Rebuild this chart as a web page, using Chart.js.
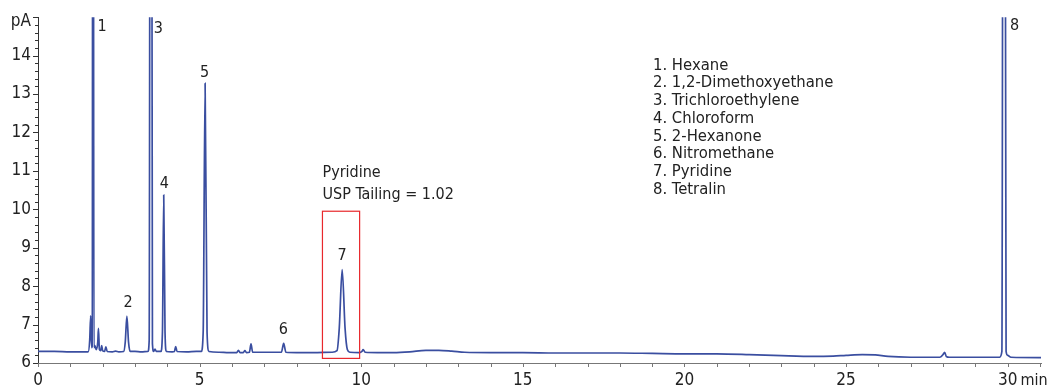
<!DOCTYPE html>
<html>
<head>
<meta charset="utf-8">
<script src="https://cdn.jsdelivr.net/npm/chart.js@4.4.1/dist/chart.umd.min.js"></script>
<style>
  html, body { margin: 0; padding: 0; background: #fff; }
</style>
</head>
<body>
<canvas id="chroma" width="1047" height="387"></canvas>
<script>
// retention time (min) and detector signal (pA)
const times = [
  0.0, 0.5, 1.0, 1.4, 1.55, 1.60, 1.63, 1.66, 1.68, 1.70, 1.73, 1.76, 1.80, 1.85, 1.87, 1.90,
  1.94, 1.97, 2.00, 2.06, 2.10, 2.14, 2.30, 2.40, 2.50, 2.65, 2.70, 2.75, 2.80, 2.85, 3.00, 3.20,
  3.40, 3.44, 3.49, 3.54, 3.58, 3.62, 3.66, 3.80, 3.85, 3.89, 3.93, 3.97, 4.15, 4.22, 4.26, 4.30,
  4.60, 4.90, 5.05, 5.11, 5.17, 5.23, 5.29, 5.60, 5.90, 6.15, 6.20, 6.25, 6.35, 6.40, 6.45, 6.54,
  6.59, 6.64, 7.00, 7.30, 7.53, 7.60, 7.67, 8.00, 8.50, 9.10, 9.25, 9.32, 9.41, 9.50, 9.57, 9.65,
  9.95, 10.02, 10.06, 10.12, 10.5, 11.0, 11.5, 12.0, 12.4, 12.8, 13.2, 14.0, 15.0, 16.0, 17.0, 18.0,
  19.0, 20.0, 21.0, 22.0, 23.0, 24.0, 24.6, 25.0, 25.5, 25.9, 26.3, 27.0, 27.9, 28.0, 28.05, 28.1,
  28.2, 29.0, 29.75, 29.82, 29.88, 29.95, 30.0, 30.1, 31.03
];
const signal = [
  6.30, 6.30, 6.29, 6.29, 6.29, 6.60, 7.23, 6.40, 6.45, 40.0, 6.40, 6.45, 6.35, 6.55, 6.90, 6.35,
  6.32, 6.45, 6.32, 6.30, 6.42, 6.30, 6.29, 6.31, 6.29, 6.30, 6.55, 7.22, 6.55, 6.30, 6.30, 6.29,
  6.30, 6.60, 40.0, 6.50, 6.30, 6.36, 6.30, 6.30, 6.80, 10.37, 6.80, 6.30, 6.29, 6.30, 6.43, 6.30,
  6.29, 6.30, 6.30, 6.80, 13.28, 6.80, 6.30, 6.28, 6.27, 6.27, 6.33, 6.27, 6.27, 6.32, 6.27, 6.28,
  6.50, 6.28, 6.28, 6.28, 6.28, 6.51, 6.28, 6.27, 6.27, 6.28, 6.32, 6.90, 8.43, 6.90, 6.35, 6.28,
  6.27, 6.30, 6.35, 6.28, 6.27, 6.27, 6.29, 6.33, 6.33, 6.31, 6.28, 6.27, 6.27, 6.26, 6.26, 6.26,
  6.25, 6.24, 6.24, 6.22, 6.19, 6.17, 6.18, 6.20, 6.22, 6.21, 6.17, 6.15, 6.15, 6.22, 6.28, 6.17,
  6.15, 6.15, 6.15, 6.30, 40.0, 6.30, 6.20, 6.15, 6.14
];

// peak numbers and where they sit (min, pA)
const peakNames = ['1', '2', '3', '4', '5', '6', '7', '8'];
const peakLabelX = [1.98, 2.79, 3.72, 3.91, 5.15, 7.59, 9.41, 30.21];
const peakLabelY = [14.74, 7.57, 14.70, 10.65, 13.56, 6.85, 8.78, 14.77];

const compounds = [
  '1. Hexane',
  '2. 1,2-Dimethoxyethane',
  '3. Trichloroethylene',
  '4. Chloroform',
  '5. 2-Hexanone',
  '6. Nitromethane',
  '7. Pyridine',
  '8. Tetralin'
];

const yTicks = [6, 7, 8, 9, 10, 11, 12, 13, 14, 15];
const xTicks = [0, 5, 10, 15, 20, 25, 30];
const yMinorStep = 0.2;
const xMinorStep = 1;

// box round the pyridine peak: x from, x to, y from, y to
const boxX = [8.8, 9.95];
const boxY = [6.12, 9.95];

const FONT = "'DejaVu Sans Condensed', 'DejaVu Sans', sans-serif";
const LINE = '#3a4ea0';

const extras = {
  id: 'extras',
  afterDraw(chart) {
    const ctx = chart.ctx;
    const xs = chart.scales.x;
    const ys = chart.scales.y;
    const area = chart.chartArea;
    ctx.save();

    // tick marks, major and minor
    ctx.strokeStyle = '#333';
    ctx.lineWidth = 1;
    for (let v = ys.min; v <= ys.max + 1e-6; v += yMinorStep) {
      const py = Math.round(ys.getPixelForValue(v)) + 0.5;
      const major = Math.abs(v - Math.round(v)) < 1e-6;
      ctx.beginPath();
      ctx.moveTo(area.left, py);
      ctx.lineTo(area.left - (major ? 5 : 3), py);
      ctx.stroke();
    }
    ctx.strokeStyle = '#777';
    for (let v = 0; v <= xs.max + 1e-6; v += xMinorStep) {
      const px = Math.round(xs.getPixelForValue(v)) + 0.5;
      ctx.beginPath();
      ctx.moveTo(px, area.bottom);
      ctx.lineTo(px, area.bottom + 4);
      ctx.stroke();
    }

    // axis unit labels
    ctx.fillStyle = '#222';
    ctx.font = '17px ' + FONT;
    ctx.textAlign = 'right';
    ctx.textBaseline = 'middle';
    ctx.fillText('pA', area.left - 7, area.top + 4);
    ctx.textAlign = 'left';
    ctx.textBaseline = 'top';
    const x30 = xs.getPixelForValue(30);
    const w30 = ctx.measureText('30').width;
    ctx.font = '16px ' + FONT;
    ctx.fillText('min', x30 + w30 / 2 + 3, area.bottom + 10);

    // peak numbers
    ctx.font = '16px ' + FONT;
    ctx.textAlign = 'center';
    ctx.textBaseline = 'middle';
    peakNames.forEach((n, i) => {
      ctx.fillText(n, xs.getPixelForValue(peakLabelX[i]), ys.getPixelForValue(peakLabelY[i]));
    });

    // pyridine note and box
    ctx.font = '16px ' + FONT;
    ctx.textAlign = 'left';
    ctx.fillText('Pyridine', xs.getPixelForValue(boxX[0]), ys.getPixelForValue(10.96));
    ctx.fillText('USP Tailing = 1.02', xs.getPixelForValue(boxX[0]), ys.getPixelForValue(10.38));
    ctx.strokeStyle = '#e8282c';
    ctx.lineWidth = 1.2;
    const bx0 = xs.getPixelForValue(boxX[0]);
    const bx1 = xs.getPixelForValue(boxX[1]);
    const by0 = ys.getPixelForValue(boxY[1]);
    const by1 = ys.getPixelForValue(boxY[0]);
    ctx.strokeRect(bx0, by0, bx1 - bx0, by1 - by0);

    // compound list
    ctx.fillStyle = '#222';
    ctx.font = '16.5px ' + FONT;
    compounds.forEach((c, i) => {
      ctx.fillText(c, 653, 65.5 + i * 17.7);
    });

    ctx.restore();
  }
};

new Chart(document.getElementById('chroma'), {
  type: 'line',
  data: {
    datasets: [{
      data: times.map((t, i) => ({ x: t, y: signal[i] })),
      borderColor: LINE,
      borderWidth: 1.7,
      pointRadius: 0,
      cubicInterpolationMode: 'monotone',
      clip: 0
    }]
  },
  options: {
    responsive: false,
    animation: false,
    layout: { padding: { top: 14, right: 6, left: 0, bottom: 0 } },
    plugins: { legend: { display: false }, tooltip: { enabled: false } },
    scales: {
      x: {
        type: 'linear',
        min: 0,
        max: 31.03,
        afterBuildTicks: (s) => { s.ticks = xTicks.map(v => ({ value: v })); },
        afterFit: (s) => { s.height = 24; },
        grid: { display: false, tickLength: 0 },
        border: { display: true, color: '#777', width: 1 },
        ticks: {
          padding: 7,
          color: '#222',
          font: { size: 17, family: FONT },
          maxRotation: 0,
          autoSkip: false
        }
      },
      y: {
        min: 6,
        max: 15,
        afterBuildTicks: (s) => { s.ticks = yTicks.map(v => ({ value: v })); },
        afterFit: (s) => { s.width = 38; },
        grid: { display: false, tickLength: 0 },
        border: { display: true, color: '#333', width: 1 },
        ticks: {
          padding: 7,
          color: '#222',
          font: { size: 17, family: FONT },
          callback: (v) => (v === 15 ? '' : v)
        }
      }
    }
  },
  plugins: [extras]
});
</script>
</body>
</html>
